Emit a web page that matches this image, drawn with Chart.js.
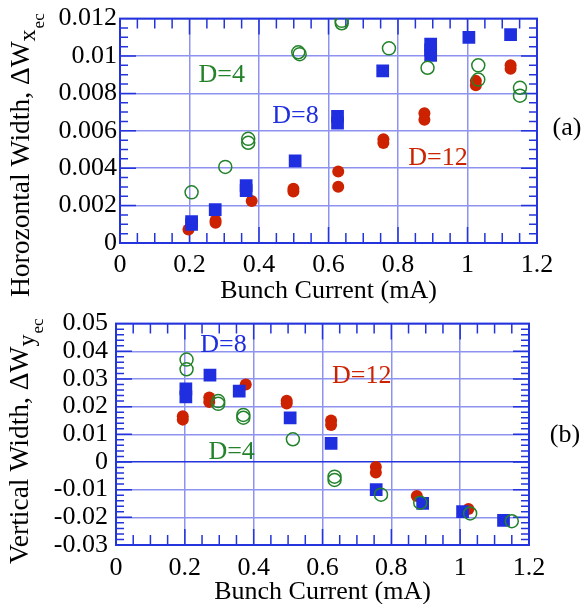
<!DOCTYPE html>
<html lang="en">
<head>
<meta charset="utf-8">
<title>Width vs bunch current</title>
<script src="https://cdn.jsdelivr.net/npm/chart.js@4.4.0/dist/chart.umd.min.js"></script>
<style>
  html, body { margin: 0; padding: 0; background: #fff; }
  #wrap { position: relative; width: 588px; height: 604px; }
  canvas { position: absolute; left: 0; }
</style>
</head>
<body>
<div id="wrap">
  <canvas id="chartA" width="588" height="312" style="top:0"></canvas>
  <canvas id="chartB" width="588" height="304" style="top:300px"></canvas>
</div>
<script>
// ---- (a) horizontal width ----
const d4X_a  = [0.206, 0.303, 0.369, 0.369, 0.513, 0.517, 0.638, 0.638, 0.774, 0.885, 1.031, 1.031, 1.151, 1.151];
const d4Y_a  = [0.00271, 0.00407, 0.00557, 0.00536, 0.01020, 0.01010, 0.01188, 0.01175, 0.01041, 0.00937, 0.00950, 0.00874, 0.00830, 0.00788];
const d8X_a  = [0.206, 0.206, 0.274, 0.363, 0.363, 0.504, 0.626, 0.626, 0.756, 0.894, 0.894, 0.894, 1.004, 1.124];
const d8Y_a  = [0.00100, 0.00115, 0.00178, 0.00307, 0.00280, 0.00439, 0.00677, 0.00641, 0.00920, 0.01064, 0.01033, 0.01003, 0.01100, 0.01114];
const d12X_a = [0.197, 0.275, 0.275, 0.379, 0.499, 0.499, 0.628, 0.628, 0.758, 0.758, 0.876, 0.876, 1.024, 1.024, 1.124, 1.124];
const d12Y_a = [0.00072, 0.00108, 0.00120, 0.00224, 0.00290, 0.00275, 0.00382, 0.00301, 0.00555, 0.00535, 0.00694, 0.00659, 0.00867, 0.00844, 0.00950, 0.00932];

// ---- (b) vertical width ----
const d4X_b  = [0.205, 0.205, 0.297, 0.297, 0.370, 0.370, 0.514, 0.635, 0.635, 0.770, 0.884, 1.029, 1.150];
const d4Y_b  = [0.0370, 0.0335, 0.0220, 0.0210, 0.0170, 0.0160, 0.0082, -0.0053, -0.0065, -0.0118, -0.0147, -0.0186, -0.0214];
const d8X_b  = [0.203, 0.203, 0.273, 0.358, 0.506, 0.625, 0.756, 0.891, 1.007, 1.126];
const d8Y_b  = [0.0264, 0.0235, 0.0314, 0.0256, 0.0159, 0.0067, -0.0100, -0.0150, -0.0179, -0.0211];
const d12X_b = [0.194, 0.194, 0.271, 0.271, 0.377, 0.496, 0.496, 0.625, 0.625, 0.755, 0.755, 0.874, 1.024];
const d12Y_b = [0.0165, 0.0153, 0.0233, 0.0217, 0.0280, 0.0221, 0.0211, 0.0150, 0.0134, -0.0018, -0.0038, -0.0123, -0.0170];

const xRange  = [0, 1.2];
const yRangeA = [0, 0.012];
const yRangeB = [-0.03, 0.05];
const xTitle  = 'Bunch Current (mA)';

const FONT  = "'Liberation Serif', 'Times New Roman', serif";
const FRAME = '#2434dc';
const GRID  = '#8d93ef';
const BLUE  = '#1f2fe0';
const RED   = '#cc2200';
const GREEN = '#23822a';

const pts = (xs, ys) => xs.map((v, i) => ({x: v, y: ys[i]}));
const fmt = v => String(Math.round(v * 10000) / 10000);

function sets(d4, d8, d12) {
  return [
    {label: 'D=4', data: d4, pointStyle: 'circle', pointRadius: 6.5, borderWidth: 1.5,
     borderColor: GREEN, backgroundColor: 'rgba(0,0,0,0)'},
    {label: 'D=8', data: d8, pointStyle: 'rect', pointRadius: 9, borderWidth: 0,
     borderColor: BLUE, backgroundColor: BLUE},
    {label: 'D=12', data: d12, pointStyle: 'circle', pointRadius: 6, borderWidth: 0,
     borderColor: RED, backgroundColor: RED}
  ];
}

// frame, inward ticks, notes and the y title with subscripts
const decor = {
  id: 'decor',
  beforeDatasetsDraw(chart, args, o) {
    const {ctx, chartArea: a, scales: {x, y}} = chart;
    ctx.save();
    ctx.strokeStyle = FRAME;
    ctx.lineWidth = 1.5;
    ctx.beginPath();
    const nx = Math.round((o.x[1] - o.x[0]) / o.xMinor);
    for (let i = 1; i < nx; i++) {
      const px = x.getPixelForValue(o.x[0] + i * o.xMinor);
      const len = i % o.xEvery === 0 ? 16 : 10;
      ctx.moveTo(px, a.bottom); ctx.lineTo(px, a.bottom - len);
      ctx.moveTo(px, a.top); ctx.lineTo(px, a.top + len);
    }
    const ny = Math.round((o.y[1] - o.y[0]) / o.yMinor);
    for (let i = 1; i < ny; i++) {
      const py = y.getPixelForValue(o.y[0] + i * o.yMinor);
      const len = i % o.yEvery === 0 ? 16 : 8;
      ctx.moveTo(a.left, py); ctx.lineTo(a.left + len, py);
      ctx.moveTo(a.right, py); ctx.lineTo(a.right - len, py);
    }
    ctx.stroke();
    ctx.lineWidth = 2;
    ctx.strokeRect(a.left, a.top, a.right - a.left, a.bottom - a.top);
    ctx.restore();
  },
  afterDraw(chart, args, o) {
    const {ctx, scales: {x, y}} = chart;
    ctx.save();
    ctx.textAlign = 'center';
    ctx.textBaseline = 'middle';
    ctx.font = '26px ' + FONT;
    o.notes.forEach(n => {
      ctx.fillStyle = n.color;
      ctx.fillText(n.text, x.getPixelForValue(n.x), y.getPixelForValue(n.y));
    });
    ctx.fillStyle = '#000';
    ctx.fillText(o.panel.text, o.panel.px, o.panel.py);

    const t = o.title;
    ctx.translate(t.px, t.py);
    ctx.rotate(-Math.PI / 2);
    ctx.textAlign = 'left';
    ctx.textBaseline = 'alphabetic';
    ctx.font = '27.5px ' + FONT;
    ctx.fillText(t.main, 0, 0);
    let w = ctx.measureText(t.main).width;
    ctx.font = '24px ' + FONT;
    ctx.fillText(t.v, w, 6);
    w += ctx.measureText(t.v).width + 1;
    ctx.font = '17px ' + FONT;
    ctx.fillText(t.sub, w, 15);
    ctx.restore();
  }
};

function makeChart(id, cfg) {
  const gridColor = c => (c.tick && Math.abs(c.tick.value) < 1e-12 && cfg.zeroLine) ? FRAME : GRID;
  return new Chart(document.getElementById(id), {
    type: 'scatter',
    data: {datasets: cfg.datasets},
    options: {
      responsive: false,
      animation: false,
      devicePixelRatio: 1,
      layout: {padding: cfg.padding},
      plugins: {legend: {display: false}, tooltip: {enabled: false}, decor: cfg.decor},
      scales: {
        x: {
          min: xRange[0], max: xRange[1],
          border: {display: false},
          grid: {color: GRID, lineWidth: 1.5, drawTicks: false},
          ticks: {stepSize: 0.2, autoSkip: false, maxRotation: 0, color: '#000', padding: cfg.xPad,
                  font: {family: FONT, size: 26}, callback: fmt},
          title: {display: true, text: xTitle, color: '#000', font: {family: FONT, size: 26},
                  padding: {top: 0, bottom: cfg.xTitlePad}},
          afterFit: s => { s.height = cfg.xHeight; }
        },
        y: {
          min: cfg.yRange[0], max: cfg.yRange[1],
          border: {display: false},
          grid: {color: gridColor, lineWidth: 1.5, drawTicks: false},
          ticks: {stepSize: cfg.yStep, autoSkip: false, color: '#000', padding: cfg.yPad,
                  font: {family: FONT, size: 26}, callback: fmt},
          afterFit: s => { s.width = cfg.yWidth; }
        }
      }
    },
    plugins: [decor]
  });
}

makeChart('chartA', {
  datasets: sets(pts(d4X_a, d4Y_a), pts(d8X_a, d8Y_a), pts(d12X_a, d12Y_a)),
  padding: {left: 0, top: 16, right: 51, bottom: 12},
  yRange: yRangeA, yStep: 0.002, yWidth: 120, yPad: 3,
  xHeight: 57, xPad: 7, xTitlePad: -7, zeroLine: false,
  decor: {
    x: xRange, xMinor: 0.05, xEvery: 4,
    y: yRangeA, yMinor: 0.0005, yEvery: 4,
    notes: [
      {text: 'D=4', x: 0.293, y: 0.00897, color: GREEN},
      {text: 'D=8', x: 0.505, y: 0.00677, color: BLUE},
      {text: 'D=12', x: 0.915, y: 0.00456, color: RED}
    ],
    panel: {text: '(a)', px: 567, py: 128},
    title: {main: 'Horozontal Width, \u0394W', v: 'x', sub: 'ec', px: 29, py: 297}
  }
});

makeChart('chartB', {
  datasets: sets(pts(d4X_b, d4Y_b), pts(d8X_b, d8Y_b), pts(d12X_b, d12Y_b)),
  padding: {left: 0, top: 18, right: 59, bottom: 0},
  yRange: yRangeB, yStep: 0.01, yWidth: 116, yPad: 8,
  xHeight: 59, xPad: 8, xTitlePad: -4, zeroLine: true,
  decor: {
    x: xRange, xMinor: 0.05, xEvery: 4,
    y: yRangeB, yMinor: 0.002, yEvery: 5,
    notes: [
      {text: 'D=8', x: 0.3125, y: 0.0423, color: BLUE},
      {text: 'D=4', x: 0.336, y: 0.0035, color: GREEN},
      {text: 'D=12', x: 0.714, y: 0.0311, color: RED}
    ],
    panel: {text: '(b)', px: 565, py: 135},
    title: {main: 'Vertical Width, \u0394W', v: 'y', sub: 'ec', px: 28, py: 264}
  }
});
</script>
</body>
</html>
